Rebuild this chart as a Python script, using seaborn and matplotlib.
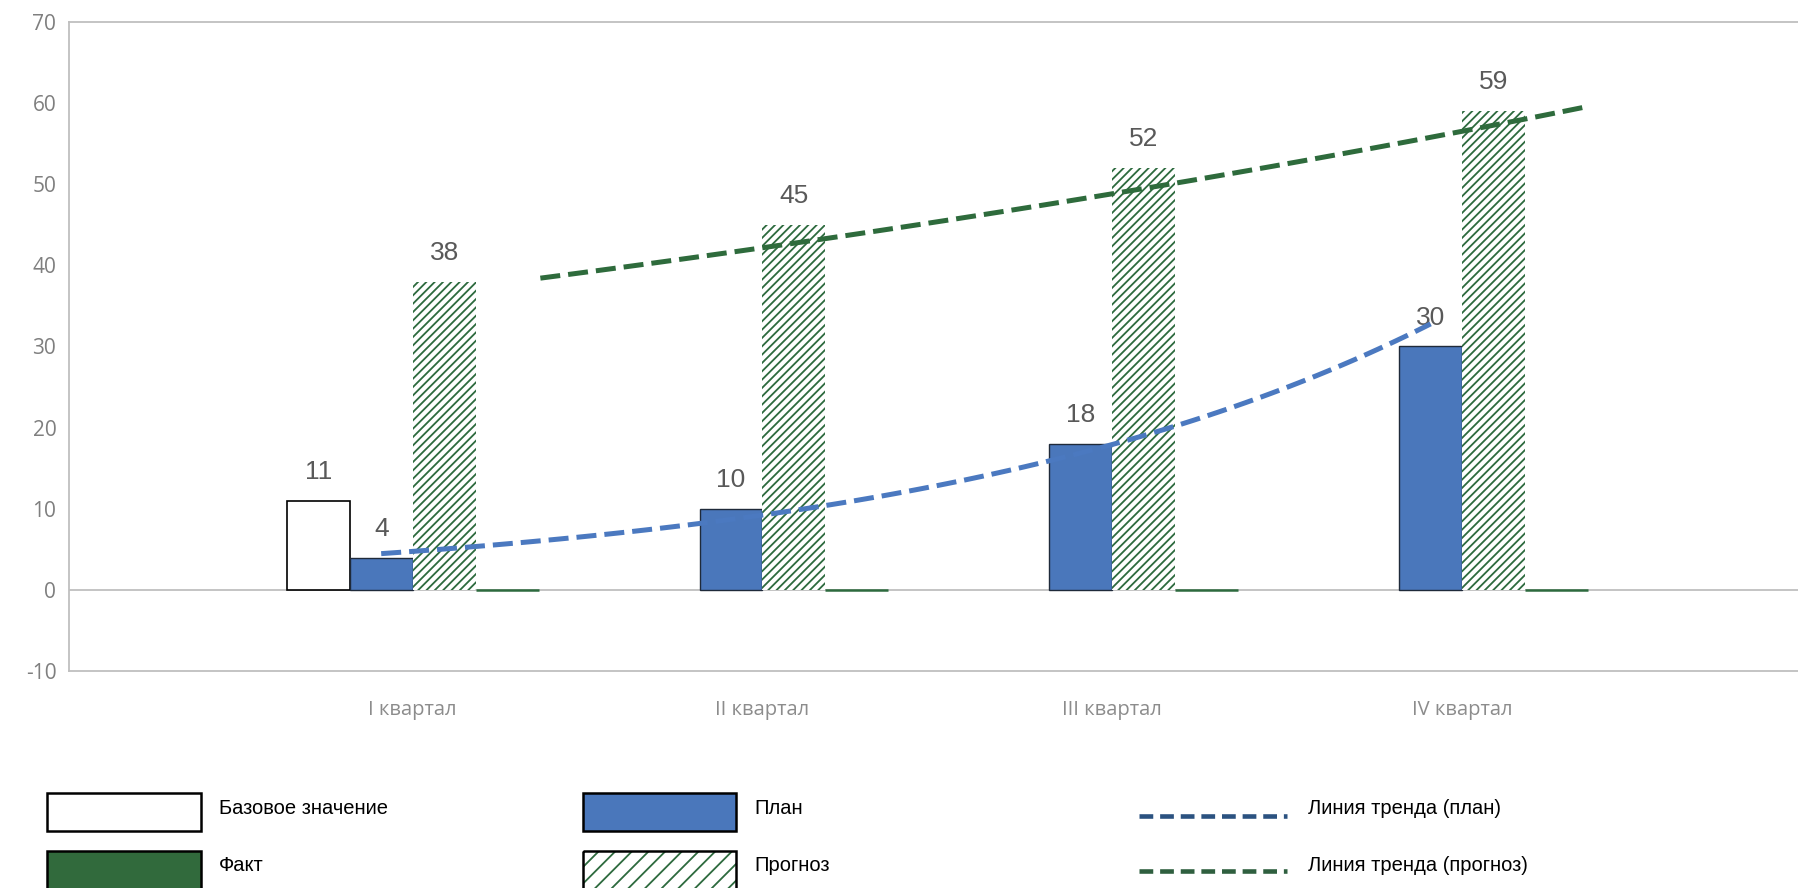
import numpy as np
import pandas as pd
import matplotlib
matplotlib.use("Agg")
import matplotlib.pyplot as plt
from matplotlib.patches import Rectangle
import seaborn as sns

# данные
quarters = ["I квартал", "II квартал", "III квартал", "IV квартал"]
series = ["Базовое значение", "План", "Прогноз", "Факт"]
base = [11, np.nan, np.nan, np.nan]
plan = [4, 10, 18, 30]
forecast = [38, 45, 52, 59]
fact = [0, 0, 0, 0]

df = pd.DataFrame({"quarter": quarters * 4,
                   "series": np.repeat(series, 4),
                   "value": base + plan + forecast + fact}).dropna()

blue = "#4a77bb"; green = "#2d6a3e"; grey = "#bfbfbf"
pal = {"Базовое значение": "white", "План": blue, "Прогноз": "white", "Факт": green}

sns.set_style("white")
plt.rcParams["font.family"] = ["Open Sans", "DejaVu Sans"]
plt.rcParams["axes.unicode_minus"] = False
plt.rcParams["hatch.linewidth"] = 1.3

W, H = 1799, 888
fig = plt.figure(figsize=(W / 100, H / 100), dpi=100)
ax = fig.add_axes([68.8 / W, 1 - 671.2 / H, 1 - 68.8 / W, (671.2 - 21.8) / H])

gw = 0.72; bw = gw / 4
sns.barplot(data=df, x="quarter", y="value", hue="series", hue_order=series, order=quarters,
            palette=pal, saturation=1, width=gw, errorbar=None, legend=False,
            edgecolor="black", linewidth=1, ax=ax)

c_base, c_plan, c_fc, c_fact = ax.containers[:4]
for b in c_base:
    b.set_edgecolor("black"); b.set_linewidth(1.2)
for b in c_plan:
    b.set_edgecolor("#1f2a3a"); b.set_linewidth(1)
for b in c_fc:
    b.set_facecolor("white"); b.set_edgecolor(green); b.set_hatch("////"); b.set_linewidth(0)
for b in c_fact:
    b.set_edgecolor(green); b.set_linewidth(1.8)

lab_kw = dict(padding=12, fontsize=19, color="#595959", family=["Liberation Sans", "DejaVu Sans"])
for c in (c_base, c_plan, c_fc):
    ax.bar_label(c, labels=[f"{b.get_height():g}" for b in c], **lab_kw)

# линии тренда (экспоненциальные, как в Excel)
t = np.linspace(0, 3, 120)
k, b0 = np.polyfit(np.arange(4), np.log(plan), 1)
ax.plot(t - bw / 2, np.exp(b0 + k * t), color="#4b79c0", lw=3.6, ls=(0, (4, 1.6)), zorder=6)
k2, b2 = np.polyfit(np.arange(4), np.log(forecast), 1)
ax.plot(t + 0.365, np.exp(b2 + k2 * t), color="#2e6b3c", lw=3.6, ls=(0, (4, 1.6)), zorder=6)

ax.axhline(0, color=grey, lw=1.3, zorder=0.5)
ax.set_ylim(-10, 70); ax.set_yticks(range(-10, 71, 10))
ax.set_xlim(-0.983, 3.963)
ax.set_xlabel(""); ax.set_ylabel("")
for s in ("left", "bottom", "top"):
    ax.spines[s].set_color(grey); ax.spines[s].set_linewidth(1.3)
ax.spines["right"].set_visible(False)
ax.tick_params(axis="y", direction="out", length=6, width=1.2, color=grey, labelcolor="#7f7f7f", labelsize=15, pad=3)
ax.tick_params(axis="x", direction="out", length=8, width=1.2, color=grey, labelcolor="#8c8c8c", labelsize=14.5, pad=13)

# легенда
lax = fig.add_axes([0, 0, 1, 1])
lax.set_xlim(0, W); lax.set_ylim(H, 0); lax.axis("off"); lax.patch.set_alpha(0)
lfont = ["Liberation Sans Narrow", "Liberation Sans", "DejaVu Sans"]
lax.add_patch(Rectangle((47, 793), 154, 38, fc="white", ec="black", lw=1.8))
lax.add_patch(Rectangle((47, 851), 154, 40, fc="#316a3c", ec="black", lw=1.8))
lax.add_patch(Rectangle((583, 793), 153, 38, fc=blue, ec="black", lw=1.8))
lax.add_patch(Rectangle((583, 851), 153, 40, fc="white", ec=green, hatch="//", lw=0))
lax.add_patch(Rectangle((583, 851), 153, 40, fc="none", ec="black", lw=1.8))
lax.plot([1139, 1287], [816, 816], color="#2b5280", lw=3.3, ls=(0, (3, 1.5)))
lax.plot([1139, 1287], [871, 871], color="#2f5f3f", lw=3.3, ls=(0, (3, 1.5)))
for x, y, s in [(219, 808, "Базовое значение"), (219, 865, "Факт"),
                (754, 808, "План"), (754, 865, "Прогноз"),
                (1308, 808, "Линия тренда (план)"), (1308, 865, "Линия тренда (прогноз)")]:
    lax.text(x, y, s, va="center", ha="left", fontsize=14.5, color="black", family=lfont)

fig.savefig("out.png", dpi=100)
